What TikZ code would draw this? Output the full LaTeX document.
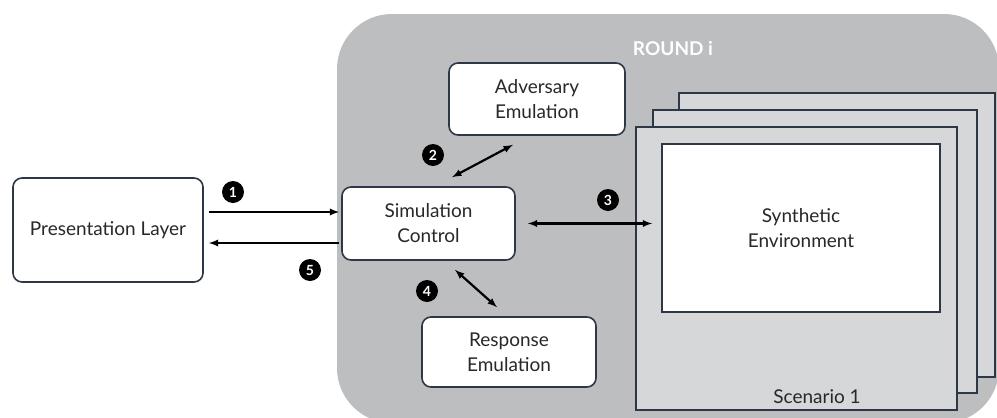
\documentclass[tikz,border=0pt]{standalone}
\usepackage{fontspec}
\setmainfont{Lato}
\definecolor{panel}{RGB}{188,190,192}
\definecolor{sheet}{RGB}{214,215,216}
\definecolor{edge}{RGB}{45,55,70}
\definecolor{ink}{RGB}{40,40,40}

\tikzset{
  box/.style={draw=edge, line width=1.6pt, fill=white, rounded corners=9pt,
    align=center, text=ink, font=\fontsize{19}{25}\selectfont},
  badge/.style={circle, fill=black, text=white, inner sep=0pt,
    minimum size=22pt, font=\bfseries\fontsize{14}{14}\selectfont},
  arr/.style={-latex, line width=2.2pt},
  dblarr/.style={latex-latex, line width=2.2pt},
  sheetbox/.style={draw=edge, line width=1.6pt, fill=sheet}
}

\begin{document}
\begin{tikzpicture}[x=1pt, y=-1pt]
    \useasboundingbox (0,0) rectangle (997,418);

    % Round panel
    \begin{scope}
        \clip (0,0) rectangle (997,418);
        \fill[panel, rounded corners=55pt] (337,14) rectangle (999,423);
    \end{scope}
    \node[text=white, font=\bfseries\fontsize{19}{19}\selectfont] (round) at (673,49) {ROUND i};

    % Stacked scenarios
    \filldraw[sheetbox] (679,93) rectangle (995,377);
    \filldraw[sheetbox] (653,110) rectangle (977,393);
    \filldraw[sheetbox] (636,127) rectangle (957,410);
    \node[box, rounded corners=0pt, minimum width=278pt, minimum height=168pt] (env) at (801,228) {Synthetic\\Environment};
    \node[text=ink, font=\fontsize{19}{19}\selectfont] (scen) at (817,397) {Scenario 1};

    % Boxes
    \node[box, minimum width=190pt, minimum height=104pt] (pres) at (108,230) {Presentation Layer};
    \node[box, minimum width=173pt, minimum height=73pt] (simctl) at (428.5,223.5) {Simulation\\Control};
    \node[box, minimum width=176pt, minimum height=72pt] (adv) at (537,99) {Adversary\\Emulation};
    \node[box, minimum width=174pt, minimum height=70pt] (resp) at (509,352) {Response\\Emulation};

    % Connectors
    \draw[arr] ([xshift=5pt, yshift=11.5pt]simctl.west -| pres.east) -- ([xshift=-2pt, yshift=11.5pt]simctl.west);
    \draw[arr] ([xshift=-2pt, yshift=-19.5pt]simctl.west) -- ([xshift=5pt, yshift=-19.5pt]simctl.west -| pres.east);
    \draw[dblarr] ([xshift=23.5pt, yshift=9pt]simctl.north) -- ([xshift=-24pt, yshift=-9pt]adv.south);
    \draw[dblarr] ([xshift=12pt]simctl.east) -- ([xshift=-9pt]simctl.east -| env.west);
    \draw[dblarr] ([xshift=26.5pt, yshift=-9pt]simctl.south) -- ([xshift=-12pt, yshift=9pt]resp.north);

    % Step numbers
    \node[badge] (n1) at (233,192) {1};
    \node[badge] (n2) at (433,155) {2};
    \node[badge] (n3) at (608,200) {3};
    \node[badge] (n4) at (427,291) {4};
    \node[badge] (n5) at (310,270) {5};
\end{tikzpicture}
\end{document}
